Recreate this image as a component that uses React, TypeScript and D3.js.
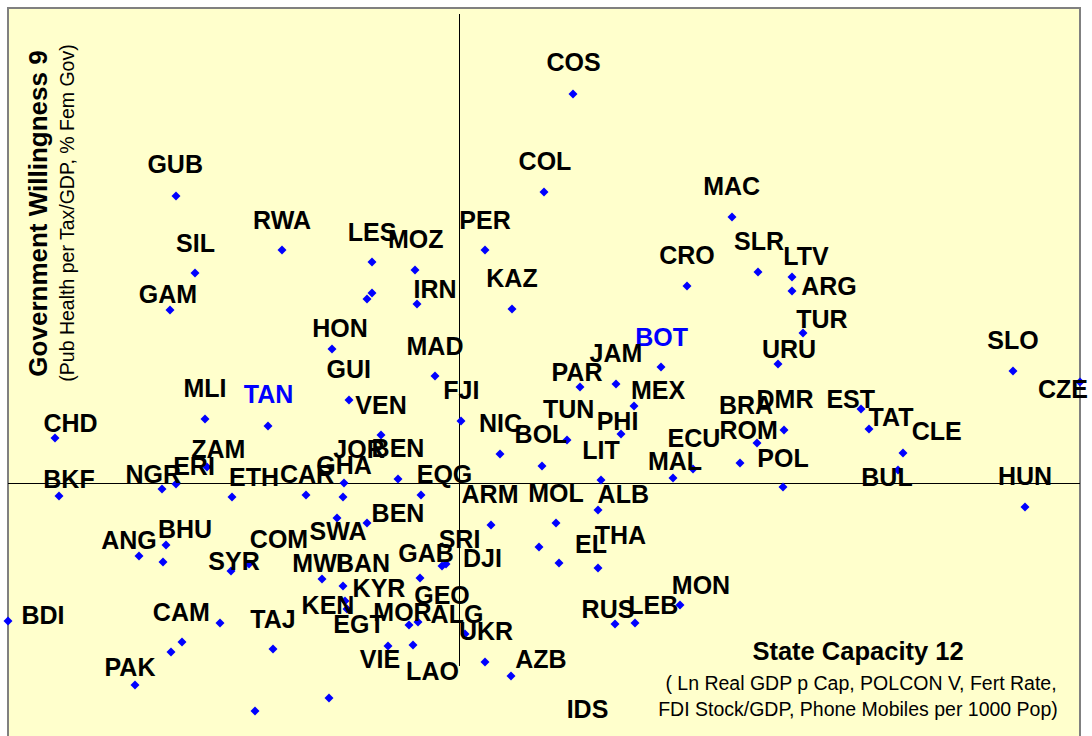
import React, { useEffect, useRef } from 'react';
import * as d3 from 'd3';

// State Capacity 12 (x) vs Government Willingness 9 (y), standardised scores
const points: [number, number][] = [
  [-2.83, 2.87], [1.14, 3.89], [0.85, 2.91], [2.73, 2.66], [-1.77, 2.33],
  [-0.87, 2.21], [-0.44, 2.13], [0.26, 2.33], [-2.64, 2.1], [-2.89, 1.73],
  [-0.92, 1.84], [-0.87, 1.9], [-0.42, 1.79], [0.53, 1.74], [2.28, 1.97],
  [2.99, 2.11], [3.33, 2.06], [3.33, 1.92], [3.44, 1.5], [3.19, 1.19],
  [2.02, 1.16], [1.57, 0.99], [1.21, 0.96], [1.75, 0.77], [-1.27, 1.34],
  [-0.24, 1.07], [-1.1, 0.83], [-2.54, 0.64], [-1.91, 0.57], [-4.04, 0.45],
  [-0.78, 0.48], [0.02, 0.62], [1.62, 0.49], [1.08, 0.43], [0.41, 0.29],
  [0.83, 0.17], [1.42, 0.03], [2.14, 0.05], [2.34, 0.14], [2.81, 0.2],
  [2.98, 0.4], [3.25, 0.53], [4.02, 0.74], [4.1, 0.54], [4.44, 0.3],
  [4.39, 0.13], [5.54, 1.12], [6.21, 1.01], [-2.52, 0.16], [-0.61, 0.04],
  [-1.15, 0.0], [5.66, -0.24], [3.24, -0.04], [-4.0, -0.13], [-2.97, -0.06],
  [-2.83, -0.01], [-2.27, -0.14], [-1.53, -0.12], [-1.16, -0.14], [-0.38, -0.12],
  [-1.22, -0.35], [-0.92, -0.4], [0.32, -0.42], [0.97, -0.4], [1.39, -0.27],
  [0.8, -0.64], [1.0, -0.8], [1.39, -0.85], [-3.2, -0.73], [-2.93, -0.62],
  [-2.96, -0.79], [-2.28, -0.88], [-2.1, -0.81], [-1.37, -0.96], [-1.16, -1.03],
  [-0.39, -0.95], [-0.17, -0.83], [-0.13, -0.81], [-1.14, -1.18], [-1.12, -1.26],
  [-0.5, -1.42], [-0.41, -1.39], [0.06, -1.51], [-0.46, -1.62], [-0.71, -1.63],
  [0.26, -1.79], [0.52, -1.93], [-1.3, -2.15], [-2.04, -2.28], [-4.51, -1.38],
  [-2.39, -1.4], [-2.77, -1.59], [-2.88, -1.69], [-3.24, -2.02], [-1.86, -1.66],
  [1.56, -1.41], [1.76, -1.4], [2.21, -1.22], [1.29, -2.58],
];

// country codes and where their labels sit (same units as the points)
const labelCodes = [
  'COS', 'GUB', 'COL', 'MAC', 'RWA', 'LES', 'MOZ', 'PER', 'SIL', 'GAM',
  'IRN', 'KAZ', 'CRO', 'SLR', 'LTV', 'ARG', 'TUR', 'URU', 'BOT', 'JAM',
  'PAR', 'MEX', 'HON', 'MAD', 'GUI', 'VEN', 'FJI', 'MLI', 'TAN', 'CHD',
  'TUN', 'PHI', 'NIC', 'BOL', 'LIT', 'ECU', 'BRA', 'DMR', 'ROM', 'POL',
  'MAL', 'EST', 'TAT', 'CLE', 'BUL', 'SLO', 'CZE', 'HUN', 'ZAM', 'ERI',
  'NGR', 'BKF', 'ETH', 'CAR', 'JOR', 'BEN', 'GHA', 'EQG', 'ARM', 'MOL',
  'ALB', 'BEN', 'SWA', 'COM', 'SRI', 'GAB', 'DJI', 'MWI', 'BAN', 'KYR',
  'GEO', 'KEN', 'MOR', 'ALG', 'EGT', 'UKR', 'VIE', 'LAO', 'AZB', 'ANG',
  'BHU', 'SYR', 'BDI', 'CAM', 'PAK', 'TAJ', 'EL', 'THA', 'MON', 'RUS',
  'LEB', 'IDS',
];
const labelX = [
  1.145, -2.838, 0.86, 2.727, -1.77, -0.87, -0.433, 0.26, -2.635, -2.91,
  -0.24, 0.53, 2.28, 3.0, 3.47, 3.7, 3.63, 3.3, 2.027, 1.57,
  1.18, 1.99, -1.19, -0.24, -1.103, -0.78, 0.023, -2.54, -1.905, -3.885,
  1.097, 1.585, 0.415, 0.82, 1.42, 2.35, 2.87, 3.26, 2.897, 3.24,
  2.16, 3.917, 4.32, 4.777, 4.28, 5.54, 6.04, 5.66, -2.407, -2.65,
  -3.057, -3.9, -2.05, -1.52, -1.0, -0.61, -1.15, -0.145, 0.31, 0.97,
  1.643, -0.61, -1.21, -1.8, 0.005, -0.33, 0.235, -1.41, -0.96, -0.8,
  -0.17, -1.31, -0.565, -0.02, -1.0, 0.27, -0.79, -0.265, 0.82, -3.3,
  -2.74, -2.25, -4.16, -2.777, -3.29, -1.86, 1.32, 1.615, 2.42, 1.49,
  1.943, 1.285,
];
const labelY = [
  4.123, 3.1, 3.13, 2.88, 2.54, 2.423, 2.35, 2.54, 2.313, 1.8,
  1.85, 1.963, 2.19, 2.335, 2.18, 1.88, 1.55, 1.25, 1.37, 1.21,
  1.02, 0.84, 1.46, 1.28, 1.05, 0.69, 0.84, 0.863, 0.8, 0.51,
  0.65, 0.53, 0.513, 0.4, 0.24, 0.363, 0.69, 0.75, 0.44, 0.16,
  0.13, 0.75, 0.573, 0.43, -0.03, 1.34, 0.85, -0.02, 0.25, 0.08,
  0.0, -0.05, -0.03, 0.003, 0.25, 0.263, 0.09, -0.003, -0.2, -0.19,
  -0.197, -0.39, -0.57, -0.647, -0.647, -0.79, -0.837, -0.89, -0.89, -1.14,
  -1.21, -1.31, -1.38, -1.397, -1.497, -1.57, -1.847, -1.97, -1.847, -0.66,
  -0.55, -0.87, -1.41, -1.38, -1.93, -1.45, -0.697, -0.61, -1.11, -1.347,
  -1.31, -2.35,
];
const highlighted = ['TAN', 'BOT'];

const xTitle = 'State Capacity 12';
const xSubtitle = ['( Ln Real GDP p Cap, POLCON V, Fert Rate,', 'FDI Stock/GDP, Phone Mobiles per 1000 Pop)'];
const yTitle = 'Government Willingness 9';
const ySubtitle = '(Pub Health per Tax/GDP, % Fem Gov)';

const font = "'Liberation Sans', Arial, sans-serif";

const App = () => {
  const svgRef = useRef<SVGSVGElement>(null);

  useEffect(() => {
    const svg = d3.select(svgRef.current);
    svg.selectAll('*').remove();

    const x = d3.scaleLinear().domain([-4.51, 6.21]).range([8, 1080]);
    const y = d3.scaleLinear().domain([-2.53, 4.75]).range([736, 8]);

    // plot area
    svg
      .append('rect')
      .attr('x', x(-4.51))
      .attr('y', y(4.75))
      .attr('width', x(6.21) - x(-4.51))
      .attr('height', 780)
      .attr('fill', '#FFFFCC')
      .attr('stroke', '#808080')
      .attr('stroke-width', 2);

    // axis cross lines
    svg
      .append('line')
      .attr('x1', x(-4.51))
      .attr('x2', x(6.21))
      .attr('y1', y(0) + 0.5)
      .attr('y2', y(0) + 0.5)
      .attr('stroke', '#000')
      .attr('stroke-width', 1);
    svg
      .append('line')
      .attr('x1', x(0) + 0.5)
      .attr('x2', x(0) + 0.5)
      .attr('y1', y(4.69))
      .attr('y2', y(-1.83))
      .attr('stroke', '#000')
      .attr('stroke-width', 1);

    // diamonds
    const diamond = d3.symbol().type(d3.symbolSquare).size(40);
    svg
      .append('g')
      .selectAll('path')
      .data(points)
      .enter()
      .append('path')
      .attr('d', diamond)
      .attr('transform', (d) => `translate(${x(d[0])},${y(d[1])}) rotate(45)`)
      .attr('fill', '#0000FF');

    // labels
    svg
      .append('g')
      .attr('font-family', font)
      .attr('font-weight', 'bold')
      .attr('font-size', 25)
      .attr('text-anchor', 'middle')
      .selectAll('text')
      .data(labelCodes)
      .enter()
      .append('text')
      .attr('x', (d, i) => x(labelX[i]))
      .attr('y', (d, i) => y(labelY[i]))
      .attr('fill', (d) => (highlighted.includes(d) ? '#0000FF' : '#000'))
      .text((d) => d);

    // y title
    svg
      .append('text')
      .attr('transform', 'translate(47,213.5) rotate(-90)')
      .attr('text-anchor', 'middle')
      .attr('font-family', font)
      .attr('font-weight', 'bold')
      .attr('font-size', 26)
      .text(yTitle);
    svg
      .append('text')
      .attr('transform', 'translate(74,213) rotate(-90)')
      .attr('text-anchor', 'middle')
      .attr('font-family', font)
      .attr('font-size', 19.5)
      .text(ySubtitle);

    // x title
    svg
      .append('text')
      .attr('x', 858)
      .attr('y', 660)
      .attr('text-anchor', 'middle')
      .attr('font-family', font)
      .attr('font-weight', 'bold')
      .attr('font-size', 25.5)
      .text(xTitle);
    svg
      .append('g')
      .attr('font-family', font)
      .attr('font-size', 19.5)
      .attr('text-anchor', 'middle')
      .selectAll('text')
      .data(xSubtitle)
      .enter()
      .append('text')
      .attr('x', (d, i) => (i === 0 ? 861 : 858))
      .attr('y', (d, i) => 690 + i * 26)
      .text((d) => d);
  }, []);

  return (
    <svg
      ref={svgRef}
      width={1092}
      height={736}
      style={{ position: 'absolute', left: 0, top: 0, display: 'block' }}
    ></svg>
  );
};

export default App;
